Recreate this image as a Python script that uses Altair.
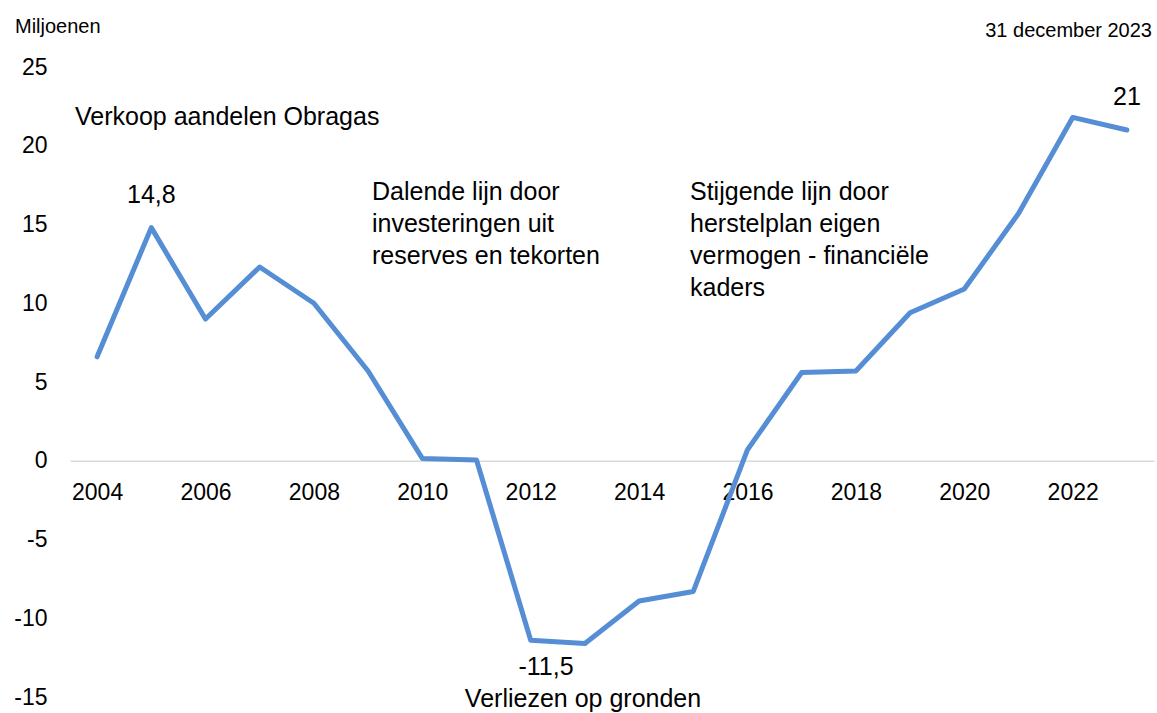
import altair as alt
import pandas as pd

years = list(range(2004, 2024))
values = [6.6, 14.8, 9.0, 12.3, 10.0, 5.7, 0.15, 0.05, -11.4, -11.6,
          -8.9, -8.3, 0.7, 5.6, 5.7, 9.4, 10.9, 15.7, 21.8, 21.0]
label_years = [2005, 2023]
label_texts = ["14,8", "21"]
x_ticks = list(range(2004, 2023, 2))
y_ticks = list(range(-15, 26, 5))

df = pd.DataFrame({"jaar": years, "waarde": values})
lab = pd.DataFrame({"jaar": label_years, "tekst": label_texts})
lab["waarde"] = [values[years.index(y)] for y in label_years]
one = pd.DataFrame({"k": [0]})

FONT = "Liberation Sans"
W, H = 1084, 630

xs = alt.Scale(domain=[2003.5, 2023.5], nice=False, zero=False)
ys = alt.Scale(domain=[-15, 25], nice=False, zero=False)

line = alt.Chart(df).mark_line(color="#558ED5", strokeWidth=5, strokeCap="round", strokeJoin="round").encode(
    x=alt.X("jaar:Q", scale=xs,
            axis=alt.Axis(values=x_ticks, format="d", title=None, ticks=False, grid=False,
                          domainColor="#d9d9d9", domainWidth=1.5, offset=-236.25,
                          labelPadding=21, labelFontSize=23, labelFont=FONT, labelColor="#000000",
                          labelFlush=False)),
    y=alt.Y("waarde:Q", scale=ys,
            axis=alt.Axis(values=y_ticks, title=None, ticks=False, grid=False, domain=False,
                          labelExpr="'' + datum.value",
                          labelPadding=23, labelFontSize=23, labelFont=FONT, labelColor="#000000")),
)

labels = alt.Chart(lab).mark_text(font=FONT, fontSize=25, color="#000000", baseline="alphabetic",
                                  align="center", dy=-25).encode(
    x=alt.X("jaar:Q", scale=xs), y=alt.Y("waarde:Q", scale=ys), text="tekst:N")


def note(text, x, y, align="left", size=25):
    return alt.Chart(one).mark_text(font=FONT, fontSize=size, color="#000000", align=align,
                                    baseline="alphabetic", lineHeight=32).encode(
        x=alt.value(x), y=alt.value(y), text=alt.value(text))


notes = [
    note("Miljoenen", -55, -34, size=20),
    note("31 december 2023", 1082, -30, align="right", size=20),
    note("Verkoop aandelen Obragas", 5, 58),
    note(["Dalende lijn door", "investeringen uit", "reserves en tekorten"], 302, 133),
    note(["Stijgende lijn door", "herstelplan eigen", "vermogen - financiële", "kaders"], 620, 133),
    note("-11,5", 476, 608, align="center"),
    note("Verliezen op gronden", 513, 640, align="center"),
]

chart = alt.layer(line, labels, *notes).properties(
    width=W, height=H,
    background="#ffffff",
    autosize=alt.AutoSizeParams(type="none"),
    padding={"left": 70, "top": 67, "right": 3, "bottom": 16},
).configure_view(strokeWidth=0, stroke=None)

chart.save("out.html", embed_options={"renderer": "svg", "actions": False})
